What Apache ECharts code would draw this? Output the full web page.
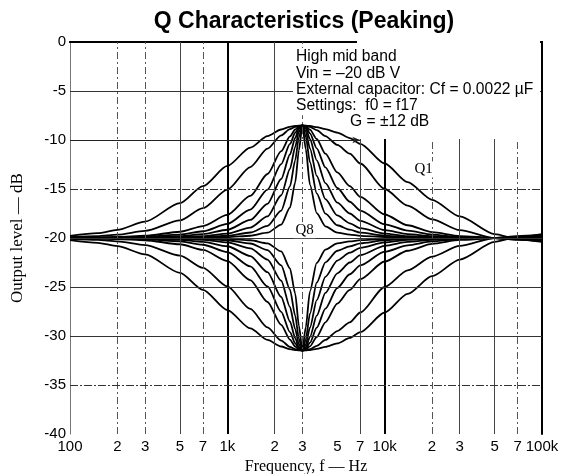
<!DOCTYPE html>
<html>
<head>
<meta charset="utf-8">
<script src="https://cdn.jsdelivr.net/npm/echarts@6/dist/echarts.min.js"></script>
<style>
  html, body { margin: 0; padding: 0; background: #fff; }
  #main { width: 561px; height: 474px; }
</style>
</head>
<body>
<div id="main"></div>
<script>
var freqs = [100, 150, 200, 300, 500, 700, 1000, 1400, 1800, 2200, 2500, 2700, 2850, 3000,
             3150, 3350, 3700, 4200, 5000, 6000, 7000, 10000, 14000, 20000, 30000, 50000, 70000, 100000];

// boost curves (dB), Q1 widest .. Q8 narrowest
var boostQ1 = [-19.78,-19.51,-19.17,-18.33,-16.44,-14.71,-12.65,-10.77,-9.6,-8.93,-8.66,-8.57,-8.53,-8.52,-8.53,-8.57,-8.68,-8.9,-9.25,-9.8,-10.4,-12.4,-14.3,-16.1,-17.8,-19.6,-20.1,-20.4];
var boostQ2 = [-19.91,-19.81,-19.66,-19.28,-18.21,-16.96,-15.06,-12.76,-10.88,-9.53,-8.89,-8.65,-8.55,-8.52,-8.55,-8.66,-9.0,-9.6,-10.5,-11.4,-12.4,-15.0,-16.7,-18.1,-19.2,-20.0,-20.2,-20.35];
var boostQ3 = [-19.97,-19.94,-19.9,-19.77,-19.36,-18.78,-17.64,-15.71,-13.47,-11.14,-9.64,-8.93,-8.62,-8.52,-8.61,-8.95,-9.9,-11.4,-13.3,-14.7,-15.8,-17.6,-18.7,-19.4,-19.8,-20.0,-20.15,-20.3];
var boostQ4 = [-19.99,-19.97,-19.94,-19.87,-19.65,-19.31,-18.56,-17.1,-15.06,-12.47,-10.4,-9.26,-8.71,-8.52,-8.69,-9.32,-10.85,-12.8,-14.9,-16.3,-17.2,-18.6,-19.25,-19.65,-19.9,-20.0,-20.1,-20.25];
var boostQ5 = [-19.99,-19.98,-19.97,-19.93,-19.81,-19.61,-19.16,-18.16,-16.51,-13.98,-11.48,-9.79,-8.86,-8.52,-8.83,-9.9,-12.07,-14.4,-16.4,-17.5,-18.25,-19.2,-19.6,-19.8,-19.95,-20.0,-20.08,-20.2];
var boostQ6 = [-20,-19.99,-19.98,-19.97,-19.9,-19.8,-19.55,-18.94,-17.8,-15.64,-12.96,-10.7,-9.16,-8.52,-9.11,-10.85,-13.66,-16.04,-17.7,-18.5,-19.0,-19.55,-19.8,-19.9,-19.97,-20.0,-20.06,-20.15];
var boostQ7 = [-20,-20,-19.99,-19.98,-19.95,-19.9,-19.77,-19.44,-18.76,-17.2,-14.74,-12.07,-9.73,-8.52,-9.63,-12.27,-15.44,-17.51,-18.7,-19.15,-19.45,-19.75,-19.9,-19.95,-19.98,-20.0,-20.04,-20.1];
var boostQ8 = [-20,-20,-20,-19.99,-19.98,-19.96,-19.91,-19.77,-19.46,-18.63,-16.91,-14.33,-11.05,-8.52,-10.88,-14.56,-17.46,-18.81,-19.45,-19.65,-19.78,-19.9,-19.95,-19.98,-19.99,-20.0,-20.02,-20.05];

// cut curves (dB)
var cutQ1 = [-20.22,-20.49,-20.83,-21.67,-23.56,-25.29,-27.35,-29.23,-30.4,-31.07,-31.34,-31.43,-31.47,-31.48,-31.47,-31.43,-31.32,-31.1,-30.75,-30.2,-29.6,-27.6,-25.7,-23.9,-22.2,-20.4,-19.9,-19.6];
var cutQ2 = [-20.09,-20.19,-20.34,-20.72,-21.79,-23.04,-24.94,-27.24,-29.12,-30.47,-31.11,-31.35,-31.45,-31.48,-31.45,-31.34,-31.0,-30.4,-29.5,-28.6,-27.6,-25.0,-23.3,-21.9,-20.8,-20.0,-19.8,-19.65];
var cutQ3 = [-20.03,-20.06,-20.1,-20.23,-20.64,-21.22,-22.36,-24.29,-26.53,-28.86,-30.36,-31.07,-31.38,-31.48,-31.39,-31.05,-30.1,-28.6,-26.7,-25.3,-24.2,-22.4,-21.3,-20.6,-20.2,-20.0,-19.85,-19.7];
var cutQ4 = [-20.01,-20.03,-20.06,-20.13,-20.35,-20.69,-21.44,-22.9,-24.94,-27.53,-29.6,-30.74,-31.29,-31.48,-31.31,-30.68,-29.15,-27.2,-25.1,-23.7,-22.8,-21.4,-20.75,-20.35,-20.1,-20.0,-19.9,-19.75];
var cutQ5 = [-20.01,-20.02,-20.03,-20.07,-20.19,-20.39,-20.84,-21.84,-23.49,-26.02,-28.52,-30.21,-31.14,-31.48,-31.17,-30.1,-27.93,-25.6,-23.6,-22.5,-21.75,-20.8,-20.4,-20.2,-20.05,-20.0,-19.92,-19.8];
var cutQ6 = [-20,-20.01,-20.02,-20.03,-20.1,-20.2,-20.45,-21.06,-22.2,-24.36,-27.04,-29.3,-30.84,-31.48,-30.89,-29.15,-26.34,-23.96,-22.3,-21.5,-21.0,-20.45,-20.2,-20.1,-20.03,-20.0,-19.94,-19.85];
var cutQ7 = [-20,-20,-20.01,-20.02,-20.05,-20.1,-20.23,-20.56,-21.24,-22.8,-25.26,-27.93,-30.27,-31.48,-30.37,-27.73,-24.56,-22.49,-21.3,-20.85,-20.55,-20.25,-20.1,-20.05,-20.02,-20.0,-19.96,-19.9];
var cutQ8 = [-20,-20,-20,-20.01,-20.02,-20.04,-20.09,-20.23,-20.54,-21.37,-23.09,-25.67,-28.95,-31.48,-29.12,-25.44,-22.54,-21.19,-20.55,-20.35,-20.22,-20.1,-20.05,-20.02,-20.01,-20.0,-19.98,-19.95];

// axis ticks
var xTickValues = [100, 200, 300, 500, 700, 1000, 2000, 3000, 5000, 7000, 10000, 20000, 30000, 50000, 70000, 100000];
var xTickLabels = ['100', '2', '3', '5', '7', '1k', '2', '3', '5', '7', '10k', '2', '3', '5', '7', '100k'];

// grid lines
var vGridThick = [1000, 10000];
var vGridSolid = [500, 2000, 7000, 30000, 50000];
var vGridDash = [200, 300, 700, 3000, 20000, 70000];
var hGridSolid = [-5, -20, -25, -30];
var hGridDash = [-15, -35];

var notes = ['High mid band', 'Vin = \u201320 dB V', 'External capacitor: Cf = 0.0022 \u00b5F', 'Settings:  f0 = f17'];

var sans = '"Liberation Sans", Arial, sans-serif';
var serif = '"Liberation Serif", "Times New Roman", serif';

var curves = [boostQ1, boostQ2, boostQ3, boostQ4, boostQ5, boostQ6, boostQ7, boostQ8,
              cutQ1, cutQ2, cutQ3, cutQ4, cutQ5, cutQ6, cutQ7, cutQ8];

var gridLines = [];
vGridThick.forEach(function (f) {
    gridLines.push({ xAxis: f, lineStyle: { color: '#000', width: 2, type: 'solid' } });
});
vGridSolid.forEach(function (f) {
    gridLines.push({ xAxis: f, lineStyle: { color: '#444', width: 1, type: 'solid' } });
});
vGridDash.forEach(function (f) {
    gridLines.push({ xAxis: f, lineStyle: { color: '#555', width: 1, type: [7, 3, 2, 3] } });
});
hGridSolid.forEach(function (v) {
    gridLines.push({ yAxis: v, lineStyle: { color: '#333', width: 1, type: 'solid' } });
});
hGridDash.forEach(function (v) {
    gridLines.push({ yAxis: v, lineStyle: { color: '#333', width: 1, type: [8, 2, 2, 2] } });
});
// -10 line ends in an arrow pointing at the G note
gridLines.push([
    { coord: [100, -10], symbol: 'none', lineStyle: { color: '#222', width: 1, type: 'solid' } },
    { coord: [7000, -10], symbol: 'arrow', symbolSize: [5, 8] }
]);

var series = [{
    type: 'line',
    data: [],
    z: 1,
    silent: true,
    markLine: {
        silent: true,
        symbol: 'none',
        animation: false,
        label: { show: false },
        data: gridLines
    },
    markPoint: {
        silent: true,
        symbol: 'rect',
        symbolSize: [22, 16],
        itemStyle: { color: '#fff' },
        label: { show: true, position: 'inside', color: '#000', fontFamily: serif, fontSize: 15,
                 formatter: function (p) { return p.name; } },
        data: [
            { name: 'Q1', coord: [17700, -13.0] },
            { name: 'Q8', coord: [3100, -19.2] }
        ]
    }
}];

curves.forEach(function (vals) {
    series.push({
        type: 'line',
        data: freqs.map(function (f, i) { return [f, vals[i]]; }),
        showSymbol: false,
        smooth: 0.25,
        smoothMonotone: 'x',
        silent: true,
        z: 3,
        lineStyle: { color: '#000', width: 1.8 }
    });
});

function xLabel(v) {
    for (var i = 0; i < xTickValues.length; i++) {
        if (Math.abs(Math.log10(v) - Math.log10(xTickValues[i])) < 0.01) return xTickLabels[i];
    }
    return '';
}

var chart = echarts.init(document.getElementById('main'), null, { renderer: 'canvas' });
chart.setOption({
    animation: false,
    backgroundColor: '#fff',
    title: {
        text: 'Q Characteristics (Peaking)',
        left: 299,
        top: 5,
        textAlign: 'center',
        textStyle: { fontFamily: sans, fontSize: 23, fontWeight: 'bold', color: '#000' }
    },
    grid: { left: 70, right: 19, top: 42, bottom: 40, containLabel: false, outerBoundsMode: 'none' },
    xAxis: [{
        type: 'log',
        logBase: 10,
        min: 100,
        max: 100000,
        position: 'bottom',
        axisLine: { show: true, lineStyle: { color: '#000', width: 2 } },
        axisTick: { show: false },
        splitLine: { show: false },
        minorSplitLine: { show: false },
        axisLabel: {
            customValues: xTickValues,
            formatter: xLabel,
            fontFamily: sans, fontSize: 15, color: '#000', margin: 5
        },
        name: 'Frequency, f \u2014 Hz',
        nameLocation: 'middle',
        nameGap: 22,
        nameTextStyle: { fontFamily: serif, fontSize: 16, color: '#000' }
    }, {
        type: 'log',
        logBase: 10,
        min: 100,
        max: 100000,
        position: 'top',
        axisLine: { show: true, lineStyle: { color: '#000', width: 2 } },
        axisTick: { show: false },
        axisLabel: { show: false },
        splitLine: { show: false }
    }],
    yAxis: [{
        type: 'value',
        min: -40,
        max: 0,
        interval: 5,
        axisLine: { show: true, lineStyle: { color: '#777', width: 1 } },
        axisTick: { show: false },
        splitLine: { show: false },
        axisLabel: { fontFamily: sans, fontSize: 15, color: '#000', margin: 4 },
        name: 'Output level \u2014 dB',
        nameLocation: 'middle',
        nameGap: 44,
        nameTextStyle: { fontFamily: serif, fontSize: 17, color: '#000' }
    }, {
        type: 'value',
        min: -40,
        max: 0,
        position: 'right',
        axisLine: { show: true, lineStyle: { color: '#000', width: 2 } },
        axisTick: { show: false },
        axisLabel: { show: false },
        splitLine: { show: false }
    }],
    graphic: [
        { type: 'rect', z: 50, shape: { x: 357, y: 38, width: 183, height: 101 }, style: { fill: '#fff' } },
        { type: 'text', z: 60, left: 293, top: 48,
          style: { text: notes.join('\n'), font: '15.6px ' + sans, lineHeight: 16.3, fill: '#000',
                   backgroundColor: '#fff', padding: [1, 1, 1, 3] } },
        { type: 'text', z: 60, left: 348, top: 114,
          style: { text: 'G = \u00b112 dB', font: '15.6px ' + sans, fill: '#000',
                   backgroundColor: '#fff', padding: [0, 2, 0, 2] } },
        // restore the right frame edge over the white note area
        { type: 'line', z: 70, shape: { x1: 542, y1: 42, x2: 542, y2: 140 }, style: { stroke: '#000', lineWidth: 2 } }
    ],
    series: series
});
</script>
</body>
</html>
